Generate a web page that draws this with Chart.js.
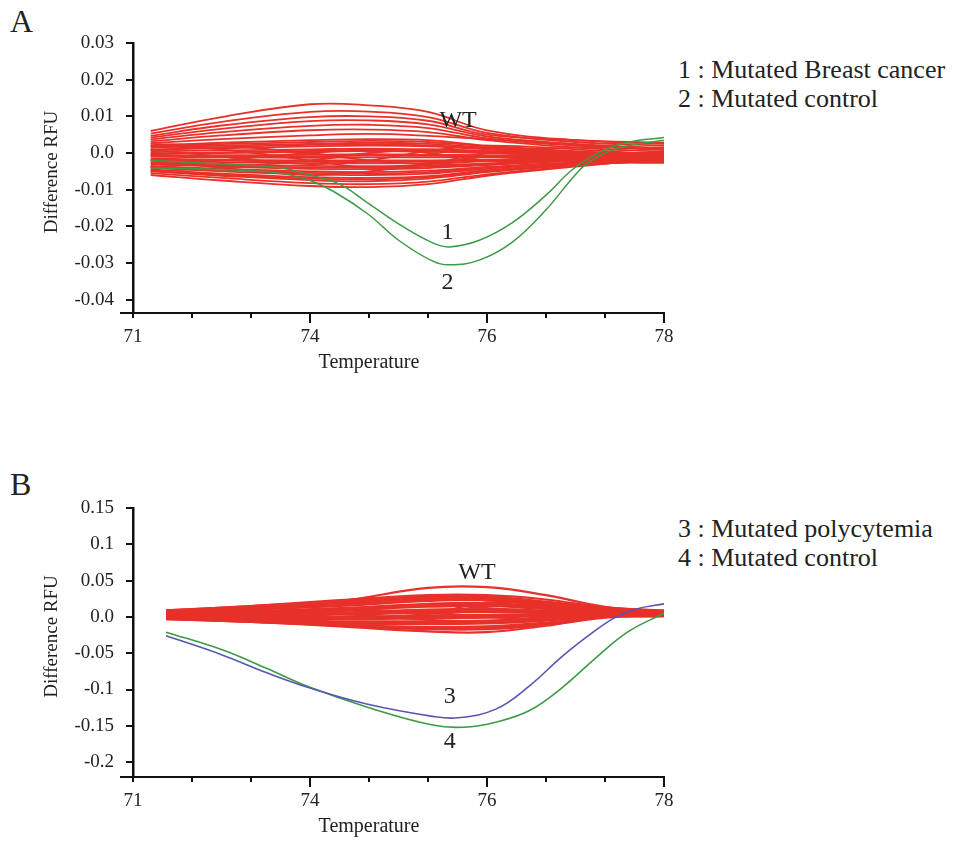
<!DOCTYPE html>
<html>
<head>
<meta charset="utf-8">
<title>Difference RFU melt curves</title>
<script src="https://cdn.jsdelivr.net/npm/chart.js@4.4.1/dist/chart.umd.min.js"></script>
<style>
  body { margin: 0; background: #fff; width: 959px; height: 844px; position: relative; overflow: hidden;
         font-family: "Liberation Serif", serif; color: #222; }
  canvas { position: absolute; left: 0; }
  #graphA { top: 0; }
  #graphB { top: 460px; }
  .letter { position: absolute; left: 10px; font-size: 32px; line-height: 1; }
  .legend { position: absolute; left: 678px; font-size: 26px; line-height: 29px; white-space: nowrap; }
</style>
</head>
<body>
<div class="letter" style="top:5px">A</div>
<div class="legend" style="top:55px">1 : Mutated Breast cancer<br>2 : Mutated control</div>
<canvas id="graphA" width="959" height="400"></canvas>

<div class="letter" style="top:468px">B</div>
<div class="legend" style="top:514px">3 : Mutated polycytemia<br>4 : Mutated control</div>
<canvas id="graphB" width="959" height="384"></canvas>

<script>
// x axis is in tick steps: 0 -> 71 ... 9 -> 78 (labels as printed on the figure)
const xTickLabels = ['71', '', '', '74', '', '', '76', '', '', '78'];
const xLongTicks = [3, 6, 9];

const yTicksA = [0.03, 0.02, 0.01, 0, -0.01, -0.02, -0.03, -0.04];
const yLabelsA = ['0.03', '0.02', '0.01', '0.0', '-0.01', '-0.02', '-0.03', '-0.04'];
const yTicksB = [0.15, 0.1, 0.05, 0, -0.05, -0.1, -0.15, -0.2];
const yLabelsB = ['0.15', '0.1', '0.05', '0.0', '-0.05', '-0.1', '-0.15', '-0.2'];

// ---- panel A : wild type curves
const wtXA = [0.3, 1.5, 3, 4, 5, 6, 7.5, 9];
const wtA = [
  [0.006, 0.0098, 0.0133, 0.013, 0.0112, 0.0062, 0.0035, 0.0025],
  [0.0053, 0.0085, 0.0112, 0.0113, 0.0098, 0.0055, 0.003, 0.002],
  [0.0047, 0.0075, 0.0098, 0.01, 0.0088, 0.005, 0.0035, 0.0028],
  [0.0042, 0.0066, 0.0087, 0.0089, 0.0078, 0.0045, 0.0025, 0.0012],
  [0.0037, 0.0057, 0.0074, 0.0077, 0.0068, 0.004, 0.002, 0.0008],
  [0.0032, 0.0048, 0.0062, 0.0064, 0.0057, 0.0035, 0.0015, 0.0003],
  [0.0027, 0.0038, 0.0048, 0.0052, 0.0047, 0.0038, 0.0022, 0.0012],
  [0.002, 0.0028, 0.0035, 0.0038, 0.0035, 0.002, 0.0005, -0.0005],
  [0.0018, 0.0024, 0.003, 0.0033, 0.003, 0.0018, 0.0003, -0.0008],
  [0.0015, 0.002, 0.0025, 0.0028, 0.0025, 0.0015, 0.0, -0.001],
  [0.001, 0.0013, 0.0018, 0.002, 0.0018, 0.001, -0.0003, -0.0012],
  [0.0008, 0.0016, 0.0022, 0.0024, 0.0021, 0.0012, -0.0002, -0.0013],
  [0.0005, 0.0007, 0.001, 0.0012, 0.001, 0.0005, -0.0005, -0.0015],
  [0.0, 0.0, 0.0003, 0.0005, 0.0003, 0.0, -0.0008, -0.0018],
  [-0.0003, 0.0002, 0.0006, 0.0008, 0.0006, 0.0002, -0.0007, -0.0017],
  [-0.0005, -0.0006, -0.0005, -0.0003, -0.0005, -0.0006, -0.001, -0.002],
  [-0.0008, -0.0009, -0.0009, -0.0007, -0.0008, -0.0009, -0.0011, -0.0017],
  [-0.001, -0.0012, -0.0013, -0.0012, -0.0012, -0.0012, -0.0012, -0.0015],
  [-0.0015, -0.0018, -0.002, -0.002, -0.002, -0.0018, -0.0015, -0.0018],
  [-0.0018, -0.0021, -0.0024, -0.0024, -0.0023, -0.002, -0.0016, -0.0019],
  [-0.002, -0.0025, -0.0028, -0.0028, -0.0027, -0.0023, -0.0018, -0.002],
  [-0.0025, -0.003, -0.0035, -0.0036, -0.0034, -0.0028, -0.002, -0.0022],
  [-0.0028, -0.0034, -0.0039, -0.004, -0.0038, -0.003, -0.0021, -0.0023],
  [-0.003, -0.0037, -0.0043, -0.0044, -0.0041, -0.0033, -0.0023, -0.0025],
  [-0.0035, -0.0043, -0.005, -0.0052, -0.0048, -0.0038, -0.0026, -0.0027],
  [-0.0038, -0.0046, -0.0054, -0.0056, -0.0052, -0.004, -0.0027, -0.0025],
  [-0.004, -0.005, -0.0058, -0.006, -0.0056, -0.0043, -0.0028, -0.0024],
  [-0.0045, -0.0056, -0.0066, -0.0068, -0.0063, -0.0047, -0.003, -0.0022],
  [-0.0048, -0.0059, -0.007, -0.0072, -0.0066, -0.005, -0.0031, -0.0021],
  [-0.005, -0.0062, -0.0074, -0.0077, -0.007, -0.0052, -0.0033, -0.002],
  [-0.0055, -0.0068, -0.0082, -0.0085, -0.0078, -0.0058, -0.0035, -0.0018],
  [-0.006, -0.0075, -0.009, -0.0093, -0.0085, -0.0062, -0.0037, -0.0015],
  [0.001, -0.001, -0.003, -0.002, 0.0005, 0.002, 0.001, -0.0005],
  [-0.004, -0.002, 0.0, 0.001, 0.0, -0.002, -0.002, -0.001],
  [0.002, 0.001, -0.002, -0.004, -0.003, -0.001, 0.0, 0.0],
  [-0.002, -0.004, -0.006, -0.005, -0.003, 0.0, 0.0015, 0.0015],
  [0.0025, 0.002, 0.0, -0.002, -0.003, -0.002, -0.001, -0.002],
  [-0.005, -0.004, -0.002, 0.0, 0.001, 0.0005, -0.0005, -0.0015]
];
// mutated curves (1 and 2), curve 2 runs outside curve 1
const mut1X = [0.3, 1.5, 2.5, 3.0, 3.5, 3.97, 4.52, 5.08, 5.36, 5.87, 6.43, 7.0, 7.45, 7.95, 8.4, 9];
const mut1Y = [-0.002, -0.003, -0.004, -0.006, -0.0085, -0.0135, -0.0195, -0.0245, -0.0256, -0.0238, -0.019, -0.0115, -0.0045, 0.0005, 0.003, 0.0042];
const mut2X = [0.3, 1.5, 2.5, 3.0, 3.4, 3.97, 4.52, 5.08, 5.36, 5.87, 6.43, 7.0, 7.45, 7.7, 8.2, 8.9, 9];
const mut2Y = [-0.004, -0.0045, -0.0055, -0.0075, -0.0105, -0.0165, -0.024, -0.0295, -0.0305, -0.0292, -0.0243, -0.0155, -0.0068, -0.0028, 0.0012, 0.0033, 0.0034];
const marksA = [
  { text: 'WT', x: 5.51, y: 0.0087 },
  { text: '1', x: 5.33, y: -0.0218 },
  { text: '2', x: 5.33, y: -0.0355 }
];

// ---- panel B : wild type curves
const wtXB = [0.56, 2, 3.5, 5, 6, 7, 8, 9];
const wtB = [
  [0.009, 0.015, 0.022, 0.04, 0.041, 0.03, 0.014, 0.008],
  [0.009, 0.015, 0.023, 0.03, 0.03, 0.024, 0.013, 0.009],
  [0.008, 0.014, 0.021, 0.028, 0.028, 0.021, 0.012, 0.008],
  [0.0085, 0.014, 0.02, 0.027, 0.027, 0.02, 0.0115, 0.0075],
  [0.007, 0.012, 0.018, 0.025, 0.026, 0.019, 0.011, 0.007],
  [0.0065, 0.011, 0.0165, 0.0235, 0.0245, 0.018, 0.0105, 0.0065],
  [0.006, 0.01, 0.015, 0.022, 0.023, 0.017, 0.01, 0.006],
  [0.005, 0.008, 0.012, 0.018, 0.019, 0.014, 0.009, 0.006],
  [0.0045, 0.007, 0.0105, 0.016, 0.017, 0.0125, 0.0085, 0.0055],
  [0.004, 0.006, 0.009, 0.014, 0.015, 0.011, 0.008, 0.005],
  [0.003, 0.004, 0.006, 0.01, 0.011, 0.009, 0.007, 0.005],
  [0.0025, 0.003, 0.0045, 0.008, 0.009, 0.0075, 0.0065, 0.0045],
  [0.002, 0.002, 0.003, 0.006, 0.007, 0.006, 0.006, 0.004],
  [0.001, 0.0, 0.0, 0.002, 0.003, 0.004, 0.005, 0.004],
  [0.0005, -0.001, -0.0015, 0.0, 0.001, 0.0025, 0.0045, 0.0035],
  [0.0, -0.002, -0.003, -0.002, -0.001, 0.001, 0.004, 0.003],
  [-0.001, -0.004, -0.006, -0.006, -0.005, -0.002, 0.003, 0.003],
  [-0.0015, -0.0045, -0.0075, -0.008, -0.007, -0.0035, 0.0025, 0.0025],
  [-0.002, -0.005, -0.009, -0.01, -0.009, -0.005, 0.002, 0.002],
  [-0.002, -0.006, -0.011, -0.014, -0.013, -0.008, 0.001, 0.002],
  [-0.0025, -0.0065, -0.0115, -0.0155, -0.015, -0.0095, 0.0005, 0.0015],
  [-0.003, -0.007, -0.012, -0.017, -0.017, -0.011, 0.0, 0.001],
  [-0.003, -0.007, -0.013, -0.02, -0.021, -0.012, -0.001, 0.001],
  [0.005, 0.006, 0.004, -0.004, -0.006, 0.0, 0.006, 0.006],
  [0.0, 0.002, 0.008, 0.016, 0.012, 0.004, 0.004, 0.005],
  [0.006, 0.007, 0.01, 0.006, 0.0, -0.004, 0.002, 0.004],
  [-0.002, -0.003, -0.002, 0.004, 0.02, 0.016, 0.01, 0.006]
];
// mutated polycytemia (3) and mutated control (4)
const mut3X = [0.56, 1.5, 2.27, 3.0, 3.96, 5.08, 5.5, 6.15, 6.72, 7.28, 7.85, 8.19, 8.53, 9];
const mut3Y = [-0.026, -0.052, -0.077, -0.098, -0.12, -0.137, -0.139, -0.127, -0.095, -0.054, -0.018, 0.0, 0.011, 0.018];
const mut4X = [0.56, 1.5, 2.27, 3.0, 3.96, 5.08, 5.6, 6.15, 6.72, 7.28, 7.85, 8.4, 9];
const mut4Y = [-0.021, -0.045, -0.071, -0.097, -0.124, -0.149, -0.152, -0.145, -0.129, -0.097, -0.056, -0.02, 0.005];
const marksB = [
  { text: 'WT', x: 5.83, y: 0.0606 },
  { text: '3', x: 5.37, y: -0.11 },
  { text: '4', x: 5.37, y: -0.172 }
];

const RED = '#e8312a';
const GREEN = '#3d9a45';
const BLUE = '#5656b4';
const FONT = '"Liberation Serif", "Times New Roman", serif';

function toPoints(xs, ys) {
  return xs.map((x, i) => ({ x: x, y: ys[i] }));
}

function lineSet(xs, ys, color, width) {
  return {
    data: toPoints(xs, ys),
    borderColor: color,
    borderWidth: width,
    pointRadius: 0,
    fill: false,
    tension: 0.4
  };
}

// long ticks under the x axis, small axis overhang, titles and curve labels
const panelDecor = {
  id: 'panelDecor',
  afterDraw(chart, args, opts) {
    const ctx = chart.ctx;
    const xs = chart.scales.x;
    const ys = chart.scales.y;
    const area = chart.chartArea;
    ctx.save();
    ctx.strokeStyle = '#111';
    ctx.lineWidth = 2;
    xs.ticks.forEach(t => {
      const px = xs.getPixelForValue(t.value);
      const len = xLongTicks.includes(t.value) ? 10 : 5;
      ctx.beginPath();
      ctx.moveTo(px, area.bottom);
      ctx.lineTo(px, area.bottom + len);
      ctx.stroke();
    });
    ctx.beginPath();
    ctx.moveTo(area.left - 13, area.bottom);
    ctx.lineTo(area.left, area.bottom);
    ctx.stroke();

    ctx.fillStyle = '#222';
    ctx.textAlign = 'center';
    ctx.textBaseline = 'middle';
    ctx.font = '24px ' + FONT;
    opts.marks.forEach(m => {
      ctx.fillText(m.text, xs.getPixelForValue(m.x), ys.getPixelForValue(m.y));
    });

    ctx.font = '20px ' + FONT;
    ctx.fillText('Temperature', xs.getPixelForValue(4), area.bottom + 50);
    ctx.font = '19px ' + FONT;
    ctx.translate(52, (area.top + area.bottom) / 2 - 6);
    ctx.rotate(-Math.PI / 2);
    ctx.fillText('Difference RFU', 0, 0);
    ctx.restore();
  }
};

function makePanel(canvasId, datasets, yMin, yTicks, yLabels, marks, topPad, xHeight) {
  const config = {
    type: 'line',
    data: { datasets: datasets },
    options: {
      responsive: false,
      animation: false,
      layout: { padding: { left: 0, right: 295, top: topPad, bottom: 0 } },
      plugins: {
        legend: { display: false },
        tooltip: { enabled: false },
        panelDecor: { marks: marks }
      },
      scales: {
        x: {
          type: 'linear',
          min: 0,
          max: 9,
          afterBuildTicks: scale => { scale.ticks = xTickLabels.map((l, i) => ({ value: i })); },
          afterFit: scale => { scale.height = xHeight; },
          ticks: {
            autoSkip: false,
            maxRotation: 0,
            padding: 13,
            color: '#222',
            font: { family: FONT, size: 19 },
            callback: (v, i) => xTickLabels[i]
          },
          grid: { drawOnChartArea: false, drawTicks: false },
          border: { color: '#111', width: 2 }
        },
        y: {
          min: yMin,
          max: yTicks[0],
          afterBuildTicks: scale => { scale.ticks = yTicks.map(v => ({ value: v })); },
          afterFit: scale => { scale.width = 133; },
          ticks: {
            padding: 12,
            color: '#222',
            font: { family: FONT, size: 19 },
            callback: (v, i) => yLabels[i]
          },
          grid: { drawOnChartArea: false, drawTicks: true, tickLength: 7, lineWidth: 2, color: '#111' },
          border: { color: '#111', width: 2.5 }
        }
      }
    },
    plugins: [panelDecor]
  };
  const ctx = document.getElementById(canvasId).getContext('2d');
  return new Chart(ctx, config);
}

// first datasets are drawn on top
let setsA = [
  lineSet(mut1X, mut1Y, GREEN, 1.5),
  lineSet(mut2X, mut2Y, GREEN, 1.5)
];
wtA.forEach(c => setsA.push(lineSet(wtXA, c, RED, 1.8)));

let setsB = [
  lineSet(mut3X, mut3Y, BLUE, 1.6),
  lineSet(mut4X, mut4Y, GREEN, 1.6)
];
wtB.forEach(c => setsB.push(lineSet(wtXB, c, RED, 2.2)));

const graphA = makePanel('graphA', setsA, -0.04363, yTicksA, yLabelsA, marksA, 43, 87);
const graphB = makePanel('graphB', setsB, -0.2205, yTicksB, yLabelsB, marksB, 48, 67);
</script>
</body>
</html>
